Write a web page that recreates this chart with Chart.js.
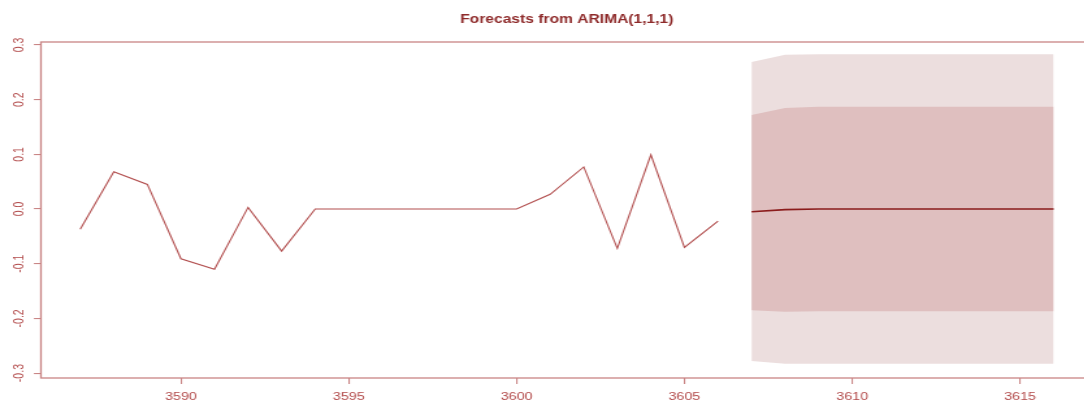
<!DOCTYPE html>
<html>
<head>
<meta charset="utf-8">
<script src="https://cdn.jsdelivr.net/npm/chart.js@4.4.0/dist/chart.umd.min.js"></script>
<style>
  html, body { margin: 0; padding: 0; background: #fff; overflow: hidden; }
  /* the original R plot was stretched sideways, so the chart is drawn narrow and widened */
  #wrap { width: 872px; height: 401px; transform: scaleX(1.3); transform-origin: 0 0; }
</style>
</head>
<body>
<div id="wrap"><canvas id="arima-forecast"></canvas></div>
<script>
// observed series
const obsTimes = [3587, 3588, 3589, 3590, 3591, 3592, 3593, 3594, 3595, 3596,
                  3597, 3598, 3599, 3600, 3601, 3602, 3603, 3604, 3605, 3606];
const obsValues = [-0.037, 0.068, 0.045, -0.091, -0.110, 0.003, -0.077, 0.0, 0.0, 0.0,
                   0.0, 0.0, 0.0, 0.0, 0.027, 0.077, -0.072, 0.099, -0.070, -0.022];

// forecast horizon
const fcTimes = [3607, 3608, 3609, 3610, 3611, 3612, 3613, 3614, 3615, 3616];
const fcMean = [-0.005, -0.001, 0.0, 0.0, 0.0, 0.0, 0.0, 0.0, 0.0, 0.0];
const lo80 = [-0.185, -0.188, -0.187, -0.187, -0.187, -0.187, -0.187, -0.187, -0.187, -0.187];
const hi80 = [0.172, 0.185, 0.187, 0.187, 0.187, 0.187, 0.187, 0.187, 0.187, 0.187];
const lo95 = [-0.278, -0.283, -0.283, -0.283, -0.283, -0.283, -0.283, -0.283, -0.283, -0.283];
const hi95 = [0.269, 0.282, 0.283, 0.283, 0.283, 0.283, 0.283, 0.283, 0.283, 0.283];

const xTicks = [3590, 3595, 3600, 3605, 3610, 3615];
const yTicks = [-0.3, -0.2, -0.1, 0.0, 0.1, 0.2, 0.3];

const axisCol = '#c98585';
const labelCol = '#b24a4a';

function pts(xs, ys) {
    return xs.map((x, i) => ({ x: x, y: ys[i] }));
}

const boxPlugin = {
    id: 'box',
    afterDraw(chart) {
        const a = chart.chartArea;
        const ctx = chart.ctx;
        ctx.save();
        ctx.strokeStyle = axisCol;
        ctx.lineWidth = 1.3;
        ctx.strokeRect(a.left, a.top, a.right - a.left, a.bottom - a.top);
        ctx.restore();
    }
};

const data = {
    datasets: [
        { label: 'Observed', data: pts(obsTimes, obsValues), borderColor: '#b24f4f', borderWidth: 1.1, pointRadius: 0, tension: 0, fill: false },
        { label: 'Forecast', data: pts(fcTimes, fcMean), borderColor: '#8b1c1c', borderWidth: 1.6, pointRadius: 0, tension: 0, fill: false },
        { label: 'Lo 80', data: pts(fcTimes, lo80), borderWidth: 0, borderColor: 'rgba(0,0,0,0)', pointRadius: 0, tension: 0, fill: false },
        { label: 'Hi 80', data: pts(fcTimes, hi80), borderWidth: 0, borderColor: 'rgba(0,0,0,0)', pointRadius: 0, tension: 0, fill: { target: 2 }, backgroundColor: '#dfbfbf' },
        { label: 'Lo 95', data: pts(fcTimes, lo95), borderWidth: 0, borderColor: 'rgba(0,0,0,0)', pointRadius: 0, tension: 0, fill: false },
        { label: 'Hi 95', data: pts(fcTimes, hi95), borderWidth: 0, borderColor: 'rgba(0,0,0,0)', pointRadius: 0, tension: 0, fill: { target: 4 }, backgroundColor: '#ecdede' }
    ]
};

const options = {
    responsive: true,
    maintainAspectRatio: false,
    animation: false,
    layout: { padding: 0 },
    plugins: {
        legend: { display: false },
        tooltip: { enabled: false },
        title: {
            display: true,
            text: 'Forecasts from ARIMA(1,1,1)',
            color: '#8e2a2a',
            font: { family: 'Liberation Sans', size: 12, weight: 'bold' },
            padding: { top: 12.5, bottom: 15.1 }
        }
    },
    scales: {
        x: {
            type: 'linear',
            min: 3585.83,
            max: 3618.35,
            afterBuildTicks: (scale) => { scale.ticks = xTicks.map(v => ({ value: v })); },
            afterFit: (scale) => { scale.height = 23; },
            grid: { drawOnChartArea: false, drawTicks: true, tickLength: 6, color: axisCol, lineWidth: 1.1 },
            border: { display: false },
            ticks: {
                color: labelCol,
                padding: 6,
                maxRotation: 0,
                font: { family: 'Liberation Sans', size: 11 },
                callback: (v) => String(v)
            }
        },
        y: {
            type: 'linear',
            min: -0.309,
            max: 0.3055,
            afterBuildTicks: (scale) => { scale.ticks = yTicks.map(v => ({ value: v })); },
            afterFit: (scale) => { scale.width = 31.5; },
            grid: { drawOnChartArea: false, drawTicks: true, tickLength: 5.4, color: axisCol, lineWidth: 1.1 },
            border: { display: false },
            ticks: {
                color: labelCol,
                padding: 1.9,
                crossAlign: 'center',
                minRotation: 90,
                maxRotation: 90,
                font: { family: 'Liberation Sans', size: 10.5 },
                callback: (v) => v.toFixed(1)
            }
        }
    }
};

new Chart(document.querySelector('#arima-forecast'), {
    type: 'line',
    data,
    options,
    plugins: [boxPlugin]
});
</script>
</body>
</html>
